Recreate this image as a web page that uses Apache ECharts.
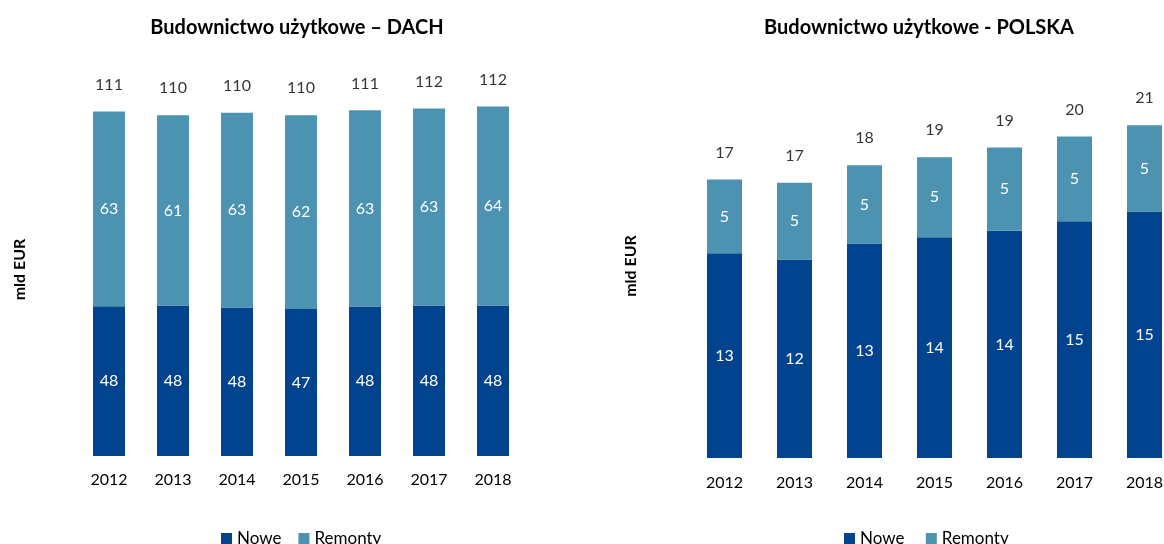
<!DOCTYPE html>
<html>
<head>
<meta charset="utf-8">
<script src="https://cdn.jsdelivr.net/npm/echarts@6/dist/echarts.min.js"></script>
<style>
  html, body { margin: 0; padding: 0; background: #fff; overflow: hidden; }
  #chart { width: 1180px; height: 544px; }
</style>
</head>
<body>
<div id="chart"></div>
<script>
// lata
var years = ['2012', '2013', '2014', '2015', '2016', '2017', '2018'];

// DACH, mld EUR
var dachNowe = [48.2, 48.4, 47.8, 47.3, 48.1, 48.4, 48.4];
var dachRemonty = [62.6, 61.2, 62.6, 62.3, 63.1, 63.4, 64.0];

// POLSKA, mld EUR
var plNowe = [12.8, 12.4, 13.4, 13.8, 14.2, 14.8, 15.4];
var plRemonty = [4.6, 4.8, 4.9, 5.0, 5.2, 5.3, 5.4];

var titleDach = 'Budownictwo użytkowe – DACH';
var titlePl = 'Budownictwo użytkowe - POLSKA';
var yName = 'mld EUR';

var FONT = 'Lato';
var C_NOWE = '#02438f';
var C_REM = '#4b93b0';

function sum(a, b) {
    return a.map(function (v, i) { return +(v + b[i]).toFixed(1); });
}
var dachTotal = sum(dachNowe, dachRemonty);
var plTotal = sum(plNowe, plRemonty);

function round(p) { return Math.round(p.value); }

var innerLabel = {
    show: true,
    position: 'inside',
    color: '#fff',
    fontFamily: FONT,
    fontSize: 16,
    formatter: round
};
var totalLabel = {
    show: true,
    position: 'inside',
    offset: [0, -27],
    color: '#000',
    fontFamily: FONT,
    fontSize: 16,
    formatter: round
};

function xAx(idx, margin) {
    return {
        type: 'category',
        gridIndex: idx,
        data: years,
        axisLine: { show: false },
        axisTick: { show: false },
        axisLabel: { color: '#000', fontFamily: FONT, fontSize: 16, margin: margin }
    };
}
function yAx(idx, max, gap) {
    return {
        type: 'value',
        gridIndex: idx,
        min: 0,
        max: max,
        name: yName,
        nameLocation: 'middle',
        nameRotate: 90,
        nameGap: gap,
        nameTextStyle: { color: '#000', fontFamily: FONT, fontSize: 16, fontWeight: 'bold' },
        axisLine: { show: false },
        axisTick: { show: false },
        axisLabel: { show: false },
        splitLine: { show: false }
    };
}

var legendText = { fontFamily: FONT, fontSize: 17, color: '#000' };

var chart = echarts.init(document.getElementById('chart'));
chart.setOption({
    animation: false,
    backgroundColor: '#fff',
    title: [
        { text: titleDach, left: 292, top: 13, textAlign: 'center',
          textStyle: { fontFamily: FONT, fontSize: 20, fontWeight: 'bold', color: '#000' } },
        { text: titlePl, left: 914, top: 13, textAlign: 'center',
          textStyle: { fontFamily: FONT, fontSize: 20, fontWeight: 'bold', color: '#000' } }
    ],
    legend: [
        { data: ['Nowe', 'Remonty'], left: 216, top: 525, itemWidth: 11, itemHeight: 11, itemGap: 17,
          icon: 'rect', textStyle: legendText },
        { data: ['Nowe ', 'Remonty '], left: 839, top: 525, itemWidth: 11, itemHeight: 11, itemGap: 17,
          icon: 'rect', textStyle: legendText }
    ],
    grid: [
        { left: 77, width: 448, top: 83, bottom: 88 },
        { left: 689.5, width: 490, top: 74, bottom: 86 }
    ],
    xAxis: [xAx(0, 16), xAx(1, 17)],
    yAxis: [yAx(0, 120, 49), yAx(1, 24, 51)],
    series: [
        { name: 'Nowe', type: 'bar', stack: 'd', xAxisIndex: 0, yAxisIndex: 0, barWidth: '50%',
          itemStyle: { color: C_NOWE }, label: innerLabel, data: dachNowe },
        { name: 'Remonty', type: 'bar', stack: 'd', xAxisIndex: 0, yAxisIndex: 0, barWidth: '50%',
          itemStyle: { color: C_REM }, label: innerLabel, data: dachRemonty },
        { type: 'scatter', xAxisIndex: 0, yAxisIndex: 0, symbolSize: 0, silent: true,
          label: totalLabel, data: dachTotal },
        { name: 'Nowe ', type: 'bar', stack: 'p', xAxisIndex: 1, yAxisIndex: 1, barWidth: '50%',
          itemStyle: { color: C_NOWE }, label: innerLabel, data: plNowe },
        { name: 'Remonty ', type: 'bar', stack: 'p', xAxisIndex: 1, yAxisIndex: 1, barWidth: '50%',
          itemStyle: { color: C_REM }, label: innerLabel, data: plRemonty },
        { type: 'scatter', xAxisIndex: 1, yAxisIndex: 1, symbolSize: 0, silent: true,
          label: totalLabel, data: plTotal }
    ]
});
</script>
</body>
</html>
